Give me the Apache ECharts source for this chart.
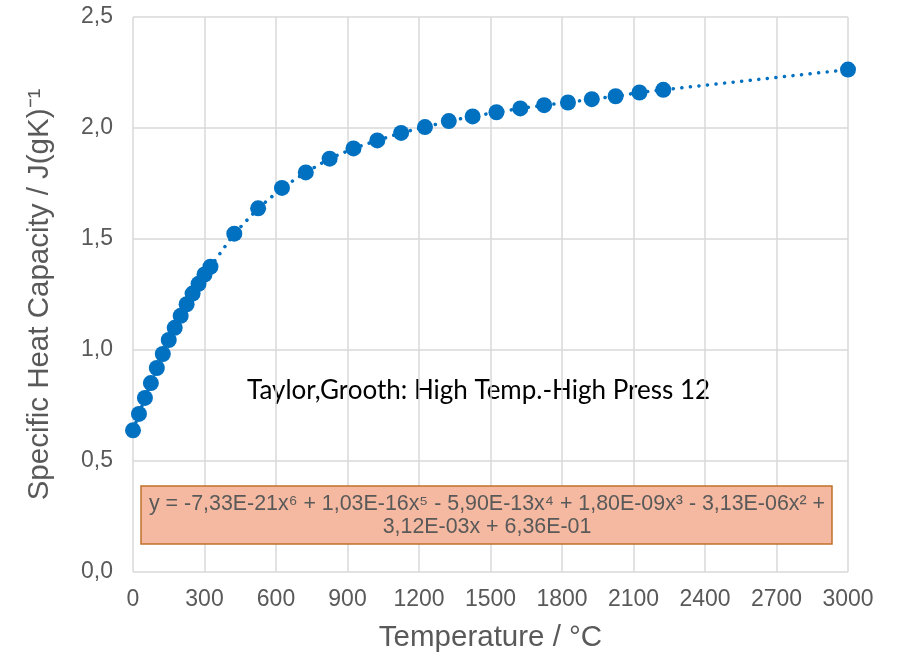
<!DOCTYPE html>
<html>
<head>
<meta charset="utf-8">
<script src="https://cdn.jsdelivr.net/npm/echarts@6/dist/echarts.min.js"></script>
<style>
  html, body { margin: 0; padding: 0; background: #fff; }
  #main { width: 902px; height: 658px; }
</style>
</head>
<body>
<div id="main"></div>
<script>
// temperatures (°C) and specific heat capacity (J/(gK))
const temps = [0, 25, 50, 75, 100, 125, 150, 175, 200, 225, 250, 275, 300, 325,
  425, 525, 625, 725, 825, 925, 1025, 1125, 1225, 1325, 1425, 1525, 1625, 1725,
  1825, 1925, 2025, 2125, 2225, 3000];
const heatCap = [0.638, 0.712, 0.784, 0.851, 0.919, 0.982, 1.045, 1.100, 1.154, 1.206, 1.254, 1.298, 1.340, 1.375,
  1.524, 1.638, 1.730, 1.800, 1.862, 1.908, 1.944, 1.978, 2.004, 2.031, 2.052, 2.071, 2.088, 2.103,
  2.115, 2.130, 2.143, 2.160, 2.172, 2.263];

const seriesLabel = "Taylor,Grooth: High Temp.-High Press 12";
const equation = ["y = -7,33E-21x⁶ + 1,03E-16x⁵ - 5,90E-13x⁴ + 1,80E-09x³ - 3,13E-06x² +",
  "3,12E-03x + 6,36E-01"];

const FONT = "'Liberation Sans', Arial, sans-serif";
const chartDom = document.getElementById("main");
const myChart = echarts.init(chartDom);

const points = temps.map((t, i) => [t, heatCap[i]]);

const option = {
  animation: false,
  textStyle: { fontFamily: FONT },
  grid: { left: 133, right: 54, top: 17, bottom: 85 },
  xAxis: {
    type: "value",
    min: 0,
    max: 3000,
    interval: 300,
    name: "Temperature / °C",
    nameLocation: "middle",
    nameGap: 51,
    nameTextStyle: { fontSize: 29.5, color: "#595959", fontFamily: FONT },
    axisLine: { show: false },
    axisTick: { show: false },
    axisLabel: {
      fontSize: 23,
      color: "#595959",
      margin: 16,
      fontFamily: FONT,
      formatter: (v) => String(v),
    },
    splitLine: { show: true, lineStyle: { color: "#d9d9d9", width: 1.5 } },
  },
  yAxis: {
    type: "value",
    min: 0,
    max: 2.5,
    interval: 0.5,
    name: "Specific Heat Capacity / J(gK)⁻¹",
    nameLocation: "middle",
    nameGap: 78,
    nameTextStyle: { fontSize: 29.5, color: "#595959", fontFamily: FONT },
    axisLine: { show: false },
    axisTick: { show: false },
    axisLabel: {
      fontSize: 23,
      color: "#595959",
      margin: 20,
      fontFamily: FONT,
      formatter: (v) => v.toFixed(1).replace(".", ","),
    },
    splitLine: { show: true, lineStyle: { color: "#d9d9d9", width: 1.5 } },
  },
  series: [
    {
      name: seriesLabel,
      type: "line",
      data: points,
      symbol: "circle",
      symbolSize: 16,
      itemStyle: { color: "#0070C0" },
      lineStyle: { color: "#0070C0", width: 3.5, type: [0.1, 8.5], cap: "round" },
      z: 3,
    },
  ],
  graphic: [
    {
      type: "text",
      x: 247,
      y: 391,
      style: {
        text: seriesLabel,
        fontSize: 26,
        fill: "#000",
        fontFamily: "Lato, 'Liberation Sans', sans-serif",
        verticalAlign: "middle",
      },
    },
    {
      type: "rect",
      shape: { x: 141, y: 486, width: 691, height: 58 },
      style: { fill: "#F4B9A0", stroke: "#C0702A", lineWidth: 1.5 },
      z: 10,
    },
    {
      type: "text",
      x: 487,
      y: 516,
      style: {
        text: equation.join("\n"),
        fontSize: 21.4,
        lineHeight: 23,
        fill: "#595959",
        align: "center",
        verticalAlign: "middle",
        fontFamily: FONT,
      },
      z: 11,
    },
  ],
};

myChart.setOption(option);
</script>
</body>
</html>
